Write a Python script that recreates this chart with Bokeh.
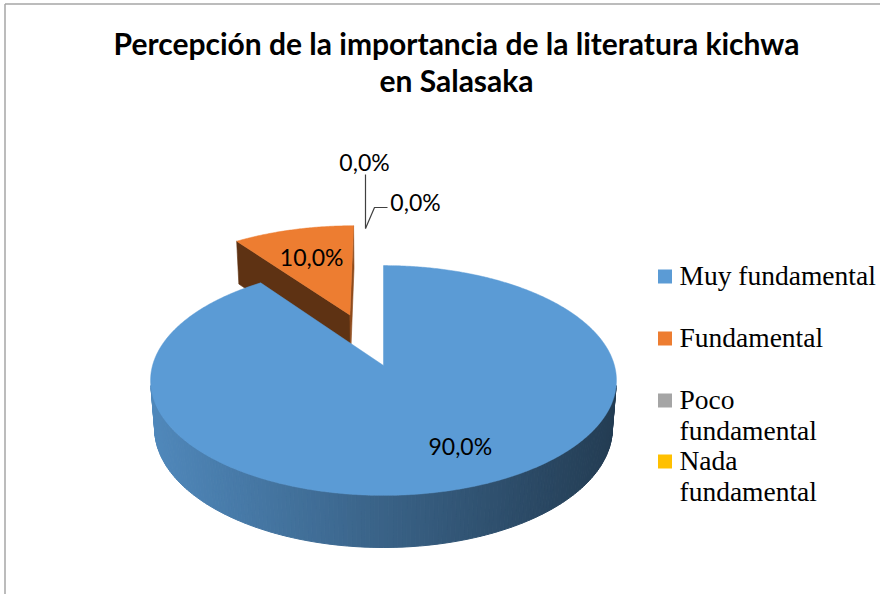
import numpy as np
from bokeh.plotting import figure
from bokeh.models import Range1d
from bokeh.embed import file_html
from bokeh.resources import INLINE
from bokeh.core.properties import value

# ---------------- data ----------------
categories = ["Muy fundamental", "Fundamental", "Poco fundamental", "Nada fundamental"]
percentages = [90.0, 10.0, 0.0, 0.0]
explode = [0.0, 0.5, 0.0, 0.0]
colors = ["#5B9BD5", "#ED7D31", "#A5A5A5", "#FFC000"]
legend_lines = [["Muy fundamental"], ["Fundamental"], ["Poco", "fundamental"], ["Nada", "fundamental"]]
title_lines = ["Percepción de la importancia de la literatura kichwa", "en Salasaka"]

# ---------------- figure (data units = picture pixels) ----------------
W, H = 880, 594
p = figure(width=W, height=H, x_range=Range1d(0, W), y_range=Range1d(H, 0),
           output_backend="svg", toolbar_location=None, min_border=0,
           x_axis_location=None, y_axis_location=None)
p.grid.visible = False
p.outline_line_color = None
p.background_fill_color = "white"
p.border_fill_color = "white"

# chart area border (left and top visible)
p.line([4.5, 4.5], [H, 3.5], line_color="#A6A6A6", line_width=1.5)
p.line([4.5, W], [3.5, 3.5], line_color="#A6A6A6", line_width=1.5)

# ---------------- 3D projection ----------------
CX, CY = 383.0, 365.0
F = 1545.0
S = 0.489
C = float(np.sqrt(1 - S * S))
D = 6.69
HT = 0.241


def proj(X, Y, Z):
    X = np.asarray(X, dtype=float)
    Y = np.asarray(Y, dtype=float)
    Z = np.asarray(Z, dtype=float)
    z = D + Y * C - Z * S
    v = Y * S + Z * C
    return CX + F * X / z, CY - F * v / z


def dirv(a_deg):
    a = np.radians(a_deg)
    return np.sin(a), np.cos(a)


def shade(hex_color, f):
    h = hex_color.lstrip("#")
    r, g, b = (int(h[i:i + 2], 16) for i in (0, 2, 4))
    return "#%02x%02x%02x" % (int(r * f), int(g * f), int(b * f))


cam = np.array([0.0, -D * C])  # camera horizontal position (X, Y)

slices = []
start = 0.0
for cat, val, ex, col in zip(categories, percentages, explode, colors):
    span = 360.0 * val / 100.0
    a0, a1 = start, start + span
    mid = (a0 + a1) / 2
    mx, my = dirv(mid)
    slices.append(dict(cat=cat, val=val, col=col, a0=a0, a1=a1, mid=mid,
                       ox=ex * mx, oy=ex * my))
    start = a1

# draw far slices first
drawn = [s for s in slices if s["val"] > 0]
drawn.sort(key=lambda s: -(s["oy"] + np.cos(np.radians(s["mid"])) * 0.5))

for s in drawn:
    ox, oy, col = s["ox"], s["oy"], s["col"]
    a0, a1 = s["a0"], s["a1"]
    # radial faces
    faces_x, faces_y, faces_c = [], [], []
    for a, sign, f in ((a0, -1, 0.40), (a1, 1, 0.60)):
        dx, dy = dirv(a)
        nx, ny = (sign * np.cos(np.radians(a)), -sign * np.sin(np.radians(a)))
        vis = nx * (cam[0] - ox) + ny * (cam[1] - oy)
        if vis > 1e-6:
            Xs = [ox, ox + dx, ox + dx, ox]
            Ys = [oy, oy + dy, oy + dy, oy]
            Zs = [0, 0, -HT, -HT]
            px, py = proj(Xs, Ys, Zs)
            faces_x.append(list(px)); faces_y.append(list(py)); faces_c.append(shade(col, f))
    if faces_x:
        p.patches(faces_x, faces_y, fill_color=faces_c, line_color=faces_c, line_width=0.6)

    # outer side
    angs = np.linspace(a0, a1, max(int(abs(a1 - a0)), 2) + 1)
    sx_list, sy_list, sc_list = [], [], []
    xmin, xmax = CX - 231, CX + 231
    for i in range(len(angs) - 1):
        am = (angs[i] + angs[i + 1]) / 2
        nx, ny = dirv(am)
        px0, py0 = ox + nx, oy + ny
        vis = nx * (cam[0] - px0) + ny * (cam[1] - py0)
        if vis <= 0:
            continue
        d0 = dirv(angs[i]); d1 = dirv(angs[i + 1])
        Xs = [ox + d0[0], ox + d1[0], ox + d1[0], ox + d0[0]]
        Ys = [oy + d0[1], oy + d1[1], oy + d1[1], oy + d0[1]]
        Zs = [0, 0, -HT, -HT]
        qx, qy = proj(Xs, Ys, Zs)
        t = (np.mean(qx) - xmin) / (xmax - xmin)
        t = min(max(t, 0), 1)
        f = 0.88 - 0.49 * t
        sx_list.append(list(qx)); sy_list.append(list(qy)); sc_list.append(shade(col, f))
    if sx_list:
        p.patches(sx_list, sy_list, fill_color=sc_list, line_color=sc_list, line_width=1.0)

    # top face
    angs = np.linspace(a0, a1, max(int(abs(a1 - a0)) * 2, 4) + 1)
    dx, dy = dirv(angs)
    Xs = np.concatenate([[ox], ox + dx])
    Ys = np.concatenate([[oy], oy + dy])
    tx, ty = proj(Xs, Ys, np.zeros_like(Xs))
    p.patch(list(tx), list(ty), fill_color=col, line_color=col, line_width=0.5)

# ---------------- data labels ----------------
label_font = value("Lato")
label_r = [0.72, 0.65]
label_shift = [-7.0, 0.0]
lx, ly, lt = [], [], []
for s, r, sh in zip(slices[:2], label_r, label_shift):
    dx, dy = dirv(s["mid"] + sh)
    x_, y_ = proj(s["ox"] + r * dx, s["oy"] + r * dy, 0.0)
    lx.append(float(x_)); ly.append(float(y_))
    lt.append(("%.1f%%" % s["val"]).replace(".", ","))
p.text(lx, ly, text=lt, text_font=label_font, text_font_size="23px",
       text_align="center", text_baseline="middle", text_color="#000000")

# zero-value labels with leader lines
zero_vals = [("%.1f%%" % s["val"]).replace(".", ",") for s in slices[2:]]
p.line([365, 365], [174, 228], line_color="#404040", line_width=1.2)
p.line([365, 374, 387], [228, 207, 207], line_color="#404040", line_width=1.2)
p.text([364, 415], [161, 201], text=zero_vals, text_font=label_font, text_font_size="23px",
       text_align="center", text_baseline="middle", text_color="#000000")

# ---------------- title ----------------
p.text([456, 456], [42, 79], text=title_lines, text_font=value("Lato"),
       text_font_style="bold", text_font_size="30px", text_align="center",
       text_baseline="middle", text_color="#000000")

# ---------------- legend ----------------
row_y = [276, 338, 400, 461]
p.scatter([664.5] * 4, row_y, marker="square", size=14, fill_color=colors, line_color=None)
tx_, ty_, tt_ = [], [], []
for lines, y0 in zip(legend_lines, row_y):
    for k, ln in enumerate(lines):
        tx_.append(679); ty_.append(y0 - 1 + 31 * k); tt_.append(ln)
p.text(tx_, ty_, text=tt_, text_font=value("Liberation Serif"), text_font_size="27.5px",
       text_align="left", text_baseline="middle", text_color="#000000")

open("out.html", "w").write(file_html(p, INLINE))
